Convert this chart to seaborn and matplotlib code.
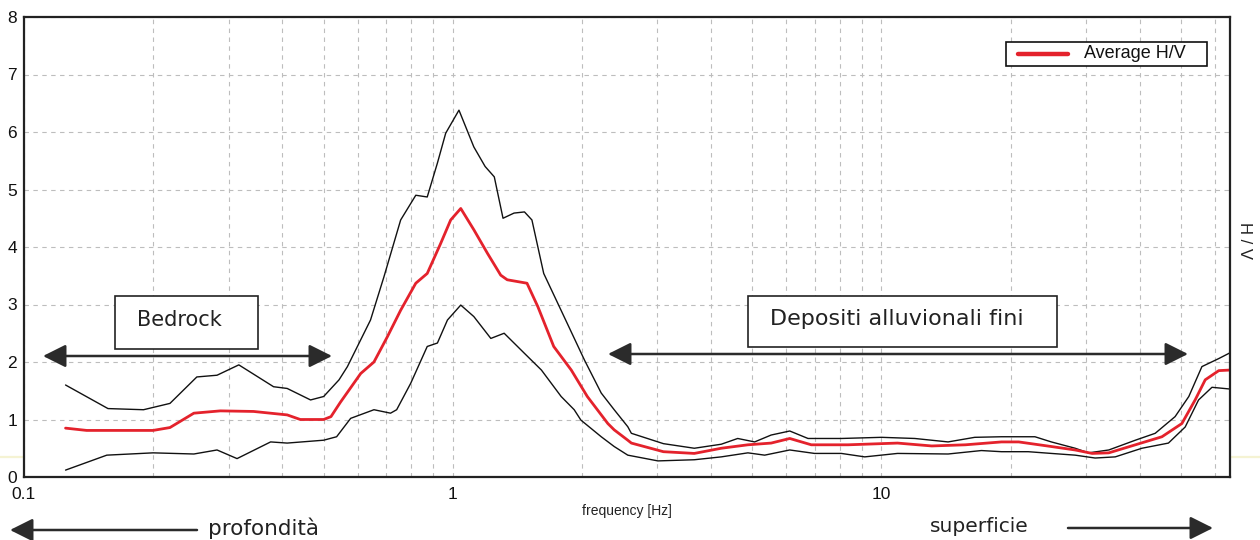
import numpy as np
import pandas as pd
import matplotlib
matplotlib.use("Agg")
import matplotlib.pyplot as plt
from matplotlib.patches import FancyArrowPatch, Rectangle
from matplotlib.lines import Line2D
from matplotlib.ticker import FixedLocator, LogLocator, NullFormatter
import seaborn as sns

# Average H/V spectral ratio and its +/- standard deviation envelope
freq_upper = [0.125, 0.157, 0.19, 0.219, 0.253, 0.282, 0.317, 0.382, 0.411, 0.466, 0.50,
              0.543, 0.568, 0.643, 0.691, 0.756, 0.82, 0.872, 0.921, 0.963, 1.034, 1.12,
              1.19, 1.25, 1.31, 1.39, 1.47, 1.53, 1.63, 1.85, 2.03, 2.22, 2.38, 2.56, 2.61,
              3.1, 3.66, 4.23, 4.62, 5.06, 5.53, 6.11, 6.74, 8.06, 10.0, 11.96, 14.3, 16.5,
              19.05, 22.8, 24.9, 28.3, 30.4, 33.9, 39.1, 43.5, 48.4, 52.1, 55.9, 61.2, 65.0]
hv_upper = [1.60, 1.19, 1.17, 1.28, 1.74, 1.77, 1.95, 1.57, 1.54, 1.34, 1.40,
            1.69, 1.92, 2.73, 3.48, 4.47, 4.90, 4.87, 5.46, 5.98, 6.38, 5.74,
            5.40, 5.22, 4.50, 4.59, 4.61, 4.47, 3.54, 2.67, 2.03, 1.46, 1.17, 0.875, 0.76,
            0.58, 0.50, 0.57, 0.67, 0.61, 0.73, 0.80, 0.67, 0.67, 0.69, 0.67, 0.61, 0.69,
            0.70, 0.70, 0.61, 0.50, 0.42, 0.47, 0.64, 0.76, 1.05, 1.40, 1.92, 2.06, 2.16]

freq_mean = [0.125, 0.14, 0.2, 0.219, 0.249, 0.287, 0.343, 0.411, 0.441, 0.50, 0.52,
             0.547, 0.61, 0.655, 0.704, 0.756, 0.82, 0.872, 0.937, 0.989, 1.044, 1.12,
             1.205, 1.294, 1.34, 1.49, 1.58, 1.72, 1.89, 2.06, 2.30, 2.38, 2.56, 2.61,
             3.1, 3.66, 4.23, 4.88, 5.53, 6.11, 6.86, 8.36, 10.9, 13.1, 15.7, 19.05,
             20.9, 24.9, 28.3, 31.0, 33.9, 39.1, 45.1, 50.2, 53.9, 56.9, 61.2, 65.0]
hv_mean = [0.85, 0.81, 0.81, 0.86, 1.11, 1.15, 1.14, 1.08, 1.00, 1.00, 1.05,
           1.30, 1.80, 2.00, 2.44, 2.90, 3.37, 3.54, 4.06, 4.47, 4.67, 4.30,
           3.89, 3.51, 3.43, 3.37, 2.96, 2.27, 1.86, 1.40, 0.93, 0.82, 0.64, 0.59,
           0.44, 0.41, 0.50, 0.56, 0.59, 0.67, 0.56, 0.56, 0.59, 0.54, 0.56, 0.61,
           0.61, 0.53, 0.47, 0.41, 0.42, 0.56, 0.70, 0.93, 1.34, 1.69, 1.85, 1.86]

freq_lower = [0.125, 0.156, 0.2, 0.249, 0.282, 0.314, 0.376, 0.411, 0.50, 0.536, 0.578,
              0.655, 0.716, 0.74, 0.798, 0.872, 0.921, 0.972, 1.044, 1.12, 1.227, 1.318,
              1.47, 1.61, 1.79, 1.92, 1.99, 2.22, 2.38, 2.56, 3.01, 3.66, 4.23, 4.88,
              5.34, 6.11, 6.98, 8.06, 9.14, 10.9, 14.3, 17.1, 19.05, 22.0, 24.9, 28.3,
              31.5, 35.1, 40.5, 46.7, 51.1, 54.9, 59.0, 65.0]
hv_lower = [0.12, 0.38, 0.42, 0.40, 0.47, 0.32, 0.61, 0.59, 0.64, 0.70, 1.02,
            1.17, 1.11, 1.17, 1.63, 2.27, 2.33, 2.73, 2.99, 2.79, 2.41, 2.50,
            2.15, 1.86, 1.40, 1.17, 0.99, 0.70, 0.53, 0.38, 0.28, 0.30, 0.35, 0.42,
            0.38, 0.47, 0.41, 0.41, 0.35, 0.41, 0.40, 0.46, 0.44, 0.44, 0.41, 0.38,
            0.33, 0.35, 0.50, 0.59, 0.87, 1.34, 1.56, 1.53]

x_ticks = [0.1, 1, 10]
x_tick_labels = ["0.1", "1", "10"]
y_ticks = [0, 1, 2, 3, 4, 5, 6, 7, 8]
legend_label = "Average H/V"

sns.set_style("white")
plt.rcParams["font.family"] = ["Liberation Sans", "DejaVu Sans"]

W, H = 1260, 540
fig = plt.figure(figsize=(W / 100, H / 100), dpi=100)
fig.patch.set_facecolor("white")


def fx(px):
    return px / W


def fy(py):
    return 1 - py / H


ax = fig.add_axes([fx(24), fy(477), fx(1230) - fx(24), fy(17) - fy(477)])
ax.set_xscale("log")
ax.set_xlim(0.1, 65.0)
ax.set_ylim(0, 8)

# faint scan streak across the sheet
fig.add_artist(Line2D([0, 1], [fy(457), fy(457)], transform=fig.transFigure,
                      color="#f3f0c8", lw=1.6, alpha=0.8, zorder=0))

# grid
ax.xaxis.set_major_locator(FixedLocator(x_ticks))
ax.xaxis.set_minor_locator(LogLocator(base=10, subs=np.arange(2, 10)))
ax.xaxis.set_minor_formatter(NullFormatter())
ax.set_xticklabels(x_tick_labels)
ax.set_yticks(y_ticks)
ax.grid(True, which="both", axis="x", color="#bdbdbd", lw=0.8, ls=(0, (4, 4)))
ax.grid(True, which="major", axis="y", color="#bdbdbd", lw=0.8, ls=(0, (4, 4)))
ax.set_axisbelow(True)

df_up = pd.DataFrame({"f": freq_upper, "hv": hv_upper})
df_mean = pd.DataFrame({"f": freq_mean, "hv": hv_mean})
df_low = pd.DataFrame({"f": freq_lower, "hv": hv_lower})

mean_color = "#e4222c"
sns.lineplot(data=df_up, x="f", y="hv", ax=ax, color="#111111", lw=1.0, estimator=None)
sns.lineplot(data=df_low, x="f", y="hv", ax=ax, color="#111111", lw=1.0, estimator=None)
sns.lineplot(data=df_mean, x="f", y="hv", ax=ax, color=mean_color, lw=2.0, estimator=None)

ax.tick_params(axis="both", which="both", length=0, labelsize=12.5, colors="#111111")
ax.tick_params(axis="y", pad=5)
ax.tick_params(axis="x", pad=7)
ax.set_xlabel("frequency [Hz]", fontsize=10, labelpad=2, color="#222222")
ax.set_ylabel("")
for s in ax.spines.values():
    s.set_visible(True)
    s.set_color("#222222")
    s.set_linewidth(1.6)

# legend box for the average curve
fig.add_artist(Rectangle((fx(1006), fy(66)), fx(1207) - fx(1006), fy(42) - fy(66),
                         transform=fig.transFigure, facecolor="white",
                         edgecolor="#111111", lw=1.2, zorder=5))
fig.add_artist(Line2D([fx(1018), fx(1068)], [fy(54), fy(54)], transform=fig.transFigure,
                      color=mean_color, lw=3.2, zorder=6))
fig.text(fx(1084), fy(54), legend_label, ha="left", va="center", fontsize=13,
         color="#111111", zorder=6)

fig.text(fx(1245), fy(241), "H / V", rotation=270, ha="center", va="center",
         fontsize=12, color="#222222")

note_font = ["DejaVu Sans"]


def box_label(x0, x1, y0, y1, text, cx, size):
    fig.add_artist(Rectangle((fx(x0), fy(y1)), fx(x1) - fx(x0), fy(y0) - fy(y1),
                             transform=fig.transFigure, facecolor="white",
                             edgecolor="#222222", lw=1.2, zorder=5))
    fig.text(fx(cx), (fy(y0) + fy(y1)) / 2 + 0.004, text, ha="center",
             va="center", fontsize=size, family=note_font, color="#222222", zorder=6)


def arrow(x0, y0, x1, y1, style):
    fig.add_artist(FancyArrowPatch((fx(x0), fy(y0)), (fx(x1), fy(y1)),
                                   transform=fig.transFigure, arrowstyle=style,
                                   mutation_scale=1, color="#2b2b2b", lw=1.8,
                                   shrinkA=0, shrinkB=0, zorder=6))


head = ",head_length=14,head_width=7"
box_label(115, 258, 296, 349, "Bedrock", 179, 15)
arrow(43, 356, 332, 356, "<|-|>" + head)
box_label(748, 1057, 296, 347, "Depositi alluvionali fini", 897, 16)
arrow(608, 354, 1188, 354, "<|-|>" + head)

arrow(197, 530, 10, 530, "-|>" + head)
fig.text(fx(208), fy(528), "profondità", ha="left", va="center", fontsize=15.5,
         family=note_font, color="#222222")
fig.text(fx(979), fy(527), "superficie", ha="center", va="center", fontsize=14.5,
         family=note_font, color="#222222")
arrow(1068, 528, 1213, 528, "-|>" + head)

fig.savefig("out.png", dpi=100, facecolor="white")
